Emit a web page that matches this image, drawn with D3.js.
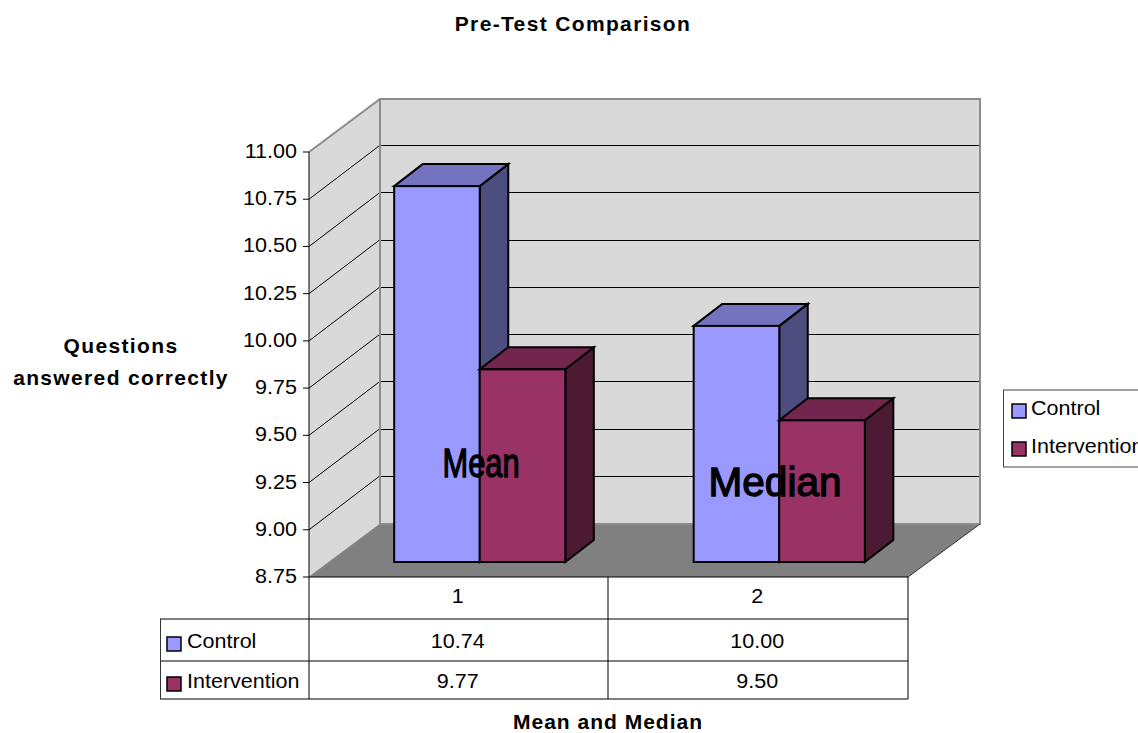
<!DOCTYPE html>
<html><head><meta charset="utf-8">
<script src="https://cdn.jsdelivr.net/npm/d3@7/dist/d3.min.js"></script>
<style>html,body{margin:0;padding:0;background:#fff;overflow:hidden}svg{display:block}text{font-family:"Liberation Sans",Arial,sans-serif;fill:#000}</style>
</head><body><svg id="c" width="1138" height="733"></svg>
<script>
const categories = ["1", "2"];
const seriesNames = ["Control", "Intervention"];
const control = [10.74, 10.00];
const intervention = [9.77, 9.50];
const tickValues = [8.75, 9.00, 9.25, 9.50, 9.75, 10.00, 10.25, 10.50, 10.75, 11.00];
const seriesFill = ["#9999ff", "#993366"];
const seriesTop = ["#7373bf", "#73264d"];
const seriesSide = ["#4d4d80", "#4d1a33"];
const groupLabels = ["Mean", "Median"];

const svg = d3.select("#c");
const y = d3.scaleLinear().domain([8.75, 11]).range([577, 152]);
const x = d3.scaleBand().domain(categories).range([309, 908]);
const xs = d3.scaleBand().domain(seriesNames).range([0, x.bandwidth()]).paddingInner(0).paddingOuter(0.75);
const DY = 54, fx = 21, fy = 15, bx = 28.5, by = 22;
const pts = a => a.join(" ");
// regular text is slightly wider than the installed face: widen it to fit
const label = (t, tx, ty, anchor) => {
  const s = svg.append("text").attr("x",tx).attr("y",ty).attr("text-anchor",anchor).attr("font-size",20.5).text(t);
  const w = s.node().getComputedTextLength();
  s.attr("textLength", w*1.05).attr("lengthAdjust","spacingAndGlyphs");
  return s;
};

// walls and floor
svg.append("polygon").attr("points", pts([[309,152],[380,99],[380,524],[309,577]])).attr("fill", "#d9d9d9");
svg.append("polygon").attr("points", pts([[380,99],[980,99],[980,524],[380,524]])).attr("fill", "#d9d9d9");
svg.append("polygon").attr("points", pts([[309,577],[380,524],[980,524],[908,577]])).attr("fill", "#808080");

// gridlines
tickValues.slice(1, -1).forEach(t => {
  const v = y(t);
  svg.append("line").attr("x1",309).attr("y1",v).attr("x2",380).attr("y2",v-DY).attr("stroke","#000");
  svg.append("line").attr("x1",380).attr("y1",Math.round(v-DY)+.5).attr("x2",980).attr("y2",Math.round(v-DY)+.5).attr("stroke","#000");
});
// wall edges
const grey = "#8c8c8c";
svg.append("path").attr("d","M309,152L380,99H980V524H380V99").attr("fill","none").attr("stroke",grey).attr("stroke-width",2);
svg.append("line").attr("x1",309).attr("y1",577).attr("x2",380).attr("y2",524).attr("stroke",grey);
svg.append("line").attr("x1",908).attr("y1",577).attr("x2",980).attr("y2",524).attr("stroke","#333");

// bars
const seriesValues = [control, intervention];
categories.forEach((c, i) => {
  seriesNames.forEach((s, k) => {
    const x0 = x(c) + xs(s) + fx, x1 = x0 + xs.bandwidth();
    const yT = y(seriesValues[k][i]) - fy, yB = y.range()[0] - fy;
    const g = svg.append("g").attr("stroke","#000").attr("stroke-width",2).attr("stroke-linejoin","miter");
    g.append("polygon").attr("points", pts([[x1,yT],[x1+bx,yT-by],[x1+bx,yB-by],[x1,yB]])).attr("fill", seriesSide[k]);
    g.append("polygon").attr("points", pts([[x0,yT],[x0+bx,yT-by],[x1+bx,yT-by],[x1,yT]])).attr("fill", seriesTop[k]);
    g.append("rect").attr("x",x0).attr("y",yT).attr("width",x1-x0).attr("height",yB-yT).attr("fill", seriesFill[k]);
  });
});

// axis
svg.append("line").attr("x1",309).attr("y1",152).attr("x2",309).attr("y2",699).attr("stroke","#000");
tickValues.forEach(t => {
  svg.append("line").attr("x1",303).attr("y1",y(t)).attr("x2",309).attr("y2",y(t)).attr("stroke","#000");
  label(d3.format(".2f")(t), 297, y(t)+6, "end");
});

// data table
const rows = [577, 619, 661, 699];
svg.append("line").attr("x1",309).attr("x2",908).attr("y1",rows[0]).attr("y2",rows[0]).attr("stroke","#000");
rows.slice(1).forEach(r => svg.append("line").attr("x1",160).attr("x2",908).attr("y1",r).attr("y2",r).attr("stroke","#000"));
svg.append("line").attr("x1",160.5).attr("x2",160.5).attr("y1",619).attr("y2",699).attr("stroke","#333");
[608, 908].forEach(v => svg.append("line").attr("x1",v).attr("x2",v).attr("y1",577).attr("y2",699).attr("stroke","#000"));
categories.forEach((c, i) => {
  const cx = x(c) + x.bandwidth()/2 - 1;
  label(c, cx, 603, "middle");
  seriesNames.forEach((s, k) => label(d3.format(".2f")(seriesValues[k][i]), cx, k?688:648, "middle"));
});
seriesNames.forEach((s, k) => {
  svg.append("rect").attr("x",167).attr("y",k?677:637).attr("width",14).attr("height",14).attr("fill",seriesFill[k]).attr("stroke","#000").attr("stroke-width",1.5);
  label(s, 187, k?688:648, "start");
});

// legend
svg.append("rect").attr("x",1003.5).attr("y",390).attr("width",160).attr("height",77).attr("fill","#fff").attr("stroke","#444");
seriesNames.forEach((s, k) => {
  svg.append("rect").attr("x",1012).attr("y",k?442:404).attr("width",14).attr("height",14).attr("fill",seriesFill[k]).attr("stroke","#000").attr("stroke-width",1.5);
  label(s, 1031, k?453:415, "start");
});

// titles
const bold = (t, cx, yy, sp) => svg.append("text").attr("x",cx).attr("y",yy).attr("text-anchor","middle").attr("font-size",21).attr("font-weight","bold").attr("letter-spacing",sp).text(t);
bold("Pre-Test Comparison", 573, 31, 1.35);
bold("Questions", 121, 353, 1.35);
bold("answered correctly", 121, 385, 1.35);
bold("Mean and Median", 608, 728.5, 1.0);

// group labels over the bars
svg.append("text").attr("x",481).attr("y",477).attr("text-anchor","middle").attr("font-size",40).attr("textLength",77).attr("lengthAdjust","spacingAndGlyphs").attr("stroke","#000").attr("stroke-width",1.3).text(groupLabels[0]);
svg.append("text").attr("x",775).attr("y",496).attr("text-anchor","middle").attr("font-size",40).attr("textLength",133).attr("lengthAdjust","spacingAndGlyphs").attr("stroke","#000").attr("stroke-width",1.3).text(groupLabels[1]);
</script></body></html>
